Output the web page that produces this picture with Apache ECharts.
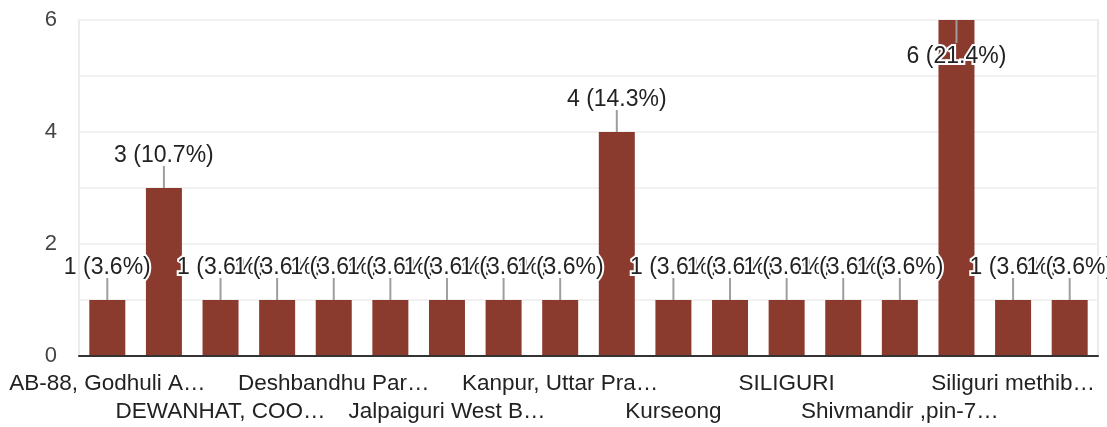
<!DOCTYPE html>
<html>
<head>
<meta charset="utf-8">
<script src="https://cdn.jsdelivr.net/npm/echarts@6/dist/echarts.min.js"></script>
<style>
html,body{margin:0;padding:0;background:#fff;}
#chart{width:1107px;height:427px;}
</style>
</head>
<body>
<div id="chart"></div>
<script>
const categories = [
  "AB-88, Godhuli A…", "Cooch Behar", "DEWANHAT, COO…", "Darjeeling",
  "Deshbandhu Par…", "Haldibari", "Jalpaiguri West B…", "Kalimpong",
  "Kanpur, Uttar Pra…", "Kolkata", "Kurseong", "Matigara",
  "SILIGURI", "Salbari", "Shivmandir ,pin-7…", "Siliguri",
  "Siliguri methib…", "Siliguri, West B…"
];
const counts = [1, 3, 1, 1, 1, 1, 1, 1, 1, 4, 1, 1, 1, 1, 1, 6, 1, 1];
const yTicks = [0, 2, 4, 6];

const total = counts.reduce((a, b) => a + b, 0);
const FONT = '"Liberation Sans", Arial, sans-serif';

function labelAxis(rowIndex, offset, showLine) {
  return {
    type: 'category',
    data: categories,
    position: 'bottom',
    offset: offset,
    axisLine: {show: showLine, lineStyle: {color: '#333', width: 2}},
    axisTick: {show: false},
    splitLine: {show: false},
    axisLabel: {
      interval: function (index) { return index % 4 === rowIndex * 2; },
      margin: 14,
      fontSize: 22.5,
      lineHeight: 28,
      fontFamily: FONT,
      color: '#222'
    },
    z: 5
  };
}

const chart = echarts.init(document.getElementById('chart'), null, {renderer: 'canvas'});
chart.setOption({
  animation: false,
  backgroundColor: '#fff',
  grid: {left: 79, right: 9, top: 20, bottom: 71, show: true, borderColor: '#ebebeb', borderWidth: 2,
         containLabel: false, outerBoundsMode: 'none'},
  xAxis: [labelAxis(0, 0, true), labelAxis(1, 28, false)],
  yAxis: {
    type: 'value',
    min: 0, max: 6, interval: 1,
    axisLine: {show: false},
    axisTick: {show: false},
    splitLine: {lineStyle: {color: '#f1f1f1', width: 2}},
    axisLabel: {
      margin: 22,
      fontSize: 22,
      fontFamily: FONT,
      color: '#444',
      formatter: function (v) { return yTicks.indexOf(v) >= 0 ? String(v) : ''; }
    }
  },
  series: [
    {
      type: 'bar',
      data: counts,
      xAxisIndex: 0,
      barWidth: 36,
      itemStyle: {color: '#8b3a2e'},
      z: 2
    },
    {
      type: 'custom',
      xAxisIndex: 0,
      data: counts.map((v, i) => [i, v]),
      z: 10,
      clip: false,
      renderItem: function (params, api) {
        const i = api.value(0), v = api.value(1);
        const p = api.coord([i, v]);
        const top = params.coordSys.y;
        const up = (p[1] - 45) >= top - 5;
        const lineEnd = up ? p[1] - 22 : p[1] + 23;
        const textY = up ? p[1] - 32 : p[1] + 37;
        const pct = (v / total * 100).toFixed(1);
        return {
          type: 'group',
          children: [
            {type: 'line', shape: {x1: p[0], y1: p[1], x2: p[0], y2: lineEnd},
             style: {stroke: '#9e9e9e', lineWidth: 2}},
            {type: 'text', style: {
              text: v + ' (' + pct + '%)', x: p[0], y: textY,
              align: 'center', verticalAlign: 'middle',
              fontSize: 23, fontFamily: FONT, fill: '#222',
              stroke: '#fff', lineWidth: 4
            }}
          ]
        };
      }
    }
  ]
});
</script>
</body>
</html>
